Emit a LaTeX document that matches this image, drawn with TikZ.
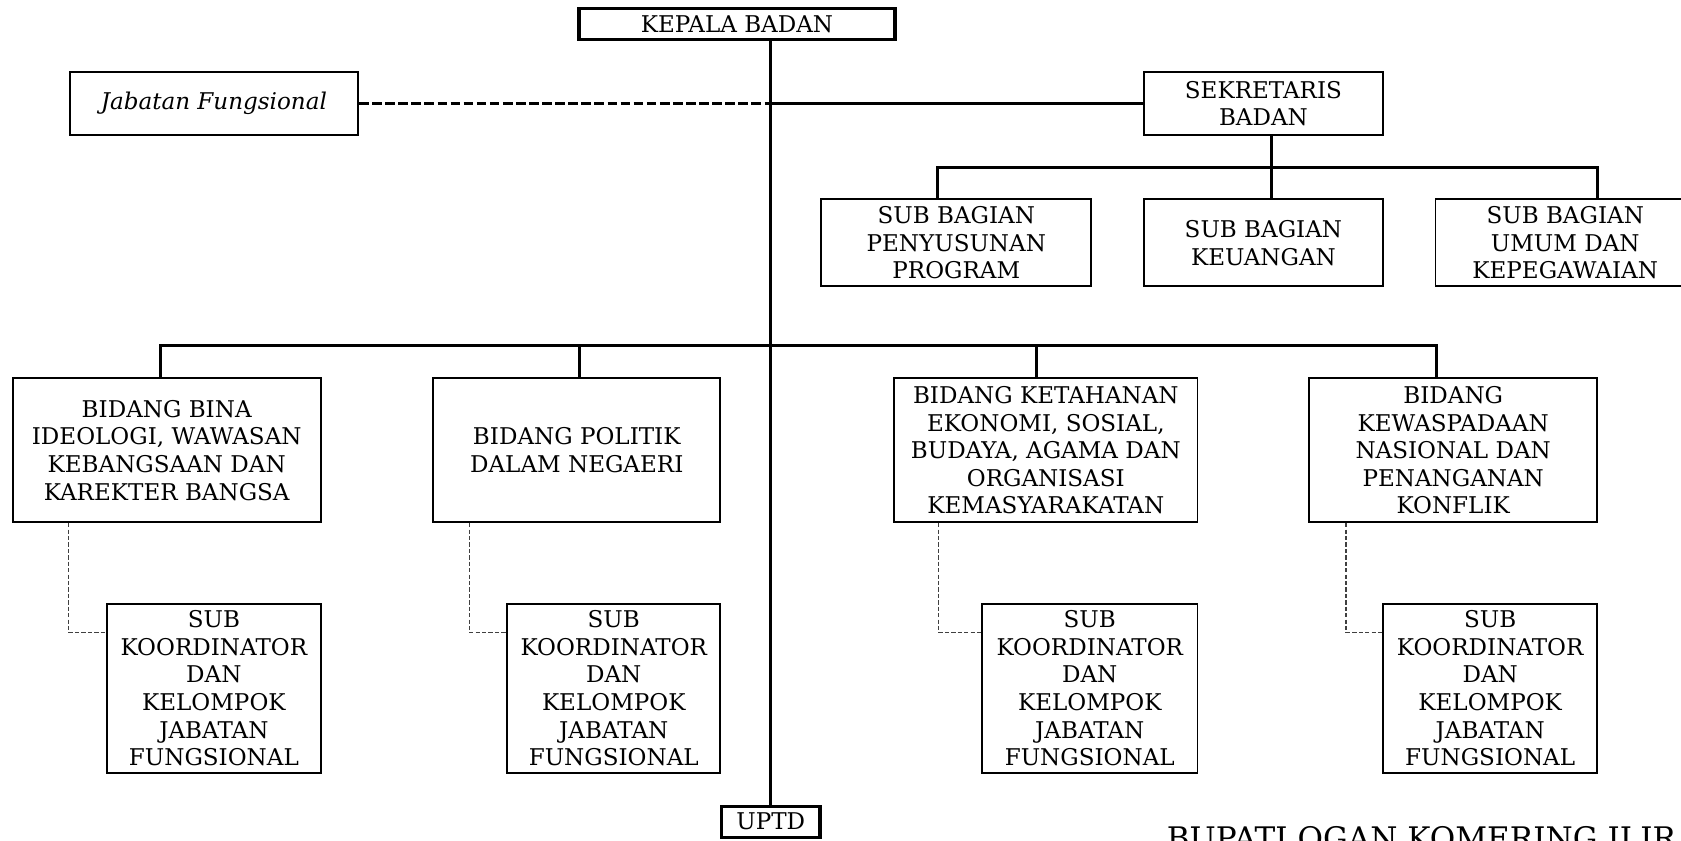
\documentclass[tikz,border=0pt]{standalone}
\usepackage{fontspec}
\setmainfont{DejaVu Serif}
\begin{document}
\begin{tikzpicture}[x=0.5pt,y=-0.5pt,
  box/.style={draw, line width=0.9pt, inner sep=0pt, align=center, font=\fontsize{10.75}{12.9}\selectfont},
  topbox/.style={box, line width=1.6pt},
  conn/.style={line width=1.4pt},
  fdash/.style={line width=1.4pt, dash pattern=on 4.5pt off 1.6pt},
  sdash/.style={line width=0.5pt, draw=black!75, dash pattern=on 2pt off 1pt}]
\clip (0,0) rectangle (1568,784);
\useasboundingbox (0,0) rectangle (1568,784);
\fill[white] (0,0) rectangle (1568,784);

% boxes
\node[topbox, minimum width=147.5pt, minimum height=14.5pt] (kepala) at (687.5,22.5) {KEPALA BADAN};
\node[box, minimum width=134.5pt, minimum height=29.5pt, font=\fontsize{10.75}{12.9}\selectfont\itshape] (jf) at (199.5,96.5) {Jabatan Fungsional};
\node[box, minimum width=111.5pt, minimum height=29.5pt] (sek) at (1178.5,96.5) {SEKRETARIS\\BADAN};
\node[box, minimum width=126pt, minimum height=40.5pt] (sb1) at (892,226.5) {SUB BAGIAN\\PENYUSUNAN\\PROGRAM};
\node[box, minimum width=111.5pt, minimum height=40.5pt] (sb2) at (1178.5,226.5) {SUB BAGIAN\\KEUANGAN};
\node[box, minimum width=121pt, minimum height=40.5pt] (sb3) at (1460,226.5) {SUB BAGIAN\\UMUM DAN\\KEPEGAWAIAN};

\node[box, minimum width=143.5pt, minimum height=67pt] (b1) at (155.5,420) {BIDANG BINA\\IDEOLOGI, WAWASAN\\KEBANGSAAN DAN\\KAREKTER BANGSA};
\node[box, minimum width=134pt, minimum height=67pt] (b2) at (538,420) {BIDANG POLITIK\\DALAM NEGAERI};
\node[box, minimum width=141.5pt, minimum height=67pt] (b3) at (975.5,420) {BIDANG KETAHANAN\\EKONOMI, SOSIAL,\\BUDAYA, AGAMA DAN\\ORGANISASI\\KEMASYARAKATAN};
\node[box, minimum width=134.5pt, minimum height=67pt] (b4) at (1355.5,420) {BIDANG\\KEWASPADAAN\\NASIONAL DAN\\PENANGANAN\\KONFLIK};

\node[box, minimum width=99.5pt, minimum height=79pt] (s1) at (199.5,642) {SUB\\KOORDINATOR\\DAN\\KELOMPOK\\JABATAN\\FUNGSIONAL};
\node[box, minimum width=99.5pt, minimum height=79pt] (s2) at (572.5,642) {SUB\\KOORDINATOR\\DAN\\KELOMPOK\\JABATAN\\FUNGSIONAL};
\node[box, minimum width=100.5pt, minimum height=79pt] (s3) at (1016.5,642) {SUB\\KOORDINATOR\\DAN\\KELOMPOK\\JABATAN\\FUNGSIONAL};
\node[box, minimum width=100pt, minimum height=79pt] (s4) at (1390,642) {SUB\\KOORDINATOR\\DAN\\KELOMPOK\\JABATAN\\FUNGSIONAL};

\node[topbox, minimum width=46pt, minimum height=14.5pt] (uptd) at (719,766.5) {UPTD};

\node[anchor=base west, inner sep=0pt, font=\fontsize{14.5}{17}\selectfont] (bupati) at (1088,792) {BUPATI OGAN KOMERING ILIR};

% junction coordinates
\coordinate (sj) at (1186,156);
\coordinate (h1) at (874.5,156);
\coordinate (h3) at (1490,156);
\coordinate (bl) at (150,322);
\coordinate (br) at (1339.5,322);
\coordinate (k2) at (540.6,322);
\coordinate (k3) at (966.8,322);
\coordinate (d1) at (64,590);
\coordinate (d2) at (437.7,590);
\coordinate (d3) at (875.4,590);
\coordinate (d4) at (1255.5,590);

% connectors
\draw[conn] (uptd.north) -- (uptd.north |- kepala.south);
\draw[fdash] (jf.east) -- (jf.east -| uptd.north);
\draw[conn] (sek.west) -- (sek.west -| uptd.north);
\draw[conn] (sj |- sek.south) -- (sj |- sb2.north);
\draw[conn] (h1 |- sb1.north) -- (h1) -- (h3) -- (h3 |- sb3.north);
\draw[conn] (bl |- b1.north) -- (bl) -- (br) -- (br |- b4.north);
\draw[conn] (k2) -- (k2 |- b2.north);
\draw[conn] (k3) -- (k3 |- b3.north);
\draw[sdash] (d1 |- b1.south) -- (d1) -- (d1 -| s1.west);
\draw[sdash] (d2 |- b2.south) -- (d2) -- (d2 -| s2.west);
\draw[sdash] (d3 |- b3.south) -- (d3) -- (d3 -| s3.west);
\draw[sdash] (d4 |- b4.south) -- (d4) -- (d4 -| s4.west);
\end{tikzpicture}
\end{document}
